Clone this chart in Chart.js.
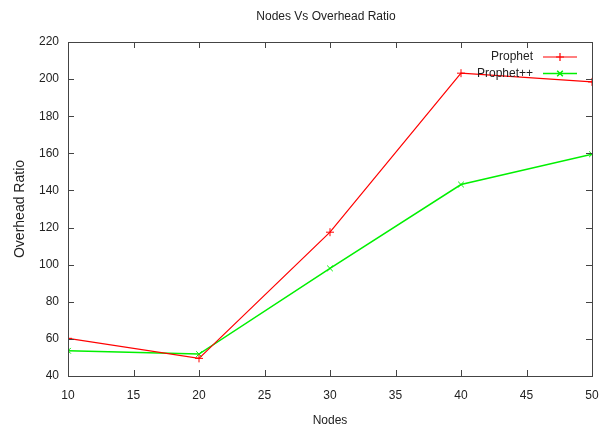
<!DOCTYPE html>
<html><head><meta charset="utf-8">
<script src="https://cdn.jsdelivr.net/npm/chart.js@4/dist/chart.umd.min.js"></script>
<style>html,body{margin:0;padding:0;background:#fff}#wrap{width:606px;height:428px}</style>
</head><body><div id="wrap"><canvas id="c" width="606" height="428"></canvas></div>
<script>
const chartTitle = 'Nodes Vs Overhead Ratio';
const xTitle = 'Nodes';
const yTitle = 'Overhead Ratio';
const nodes = [10, 20, 30, 40, 50];
const prophet = [60.3, 49.5, 117.5, 203.2, 198.5];
const prophetPP = [53.6, 51.8, 98, 143.2, 159.5];
const seriesNames = ['Prophet', 'Prophet++'];
const xTicks = [10, 15, 20, 25, 30, 35, 40, 45, 50];
const yTicks = [40, 60, 80, 100, 120, 140, 160, 180, 200, 220];

const FONT = "'Liberation Sans',Arial,sans-serif";
const TXT = '#222';
const AX = '#444';

const frame = {
  id: 'frame',
  afterDraw(chart) {
    const {ctx, chartArea: a, scales} = chart;
    const xs = scales.x, ys = scales.y;
    ctx.save();
    ctx.strokeStyle = AX; ctx.lineWidth = 1;
    ctx.strokeRect(Math.round(a.left) + 0.5, Math.round(a.top) + 0.5, Math.round(a.right - a.left), Math.round(a.bottom - a.top));
    const tl = 6;
    ctx.beginPath();
    xTicks.forEach(v => {
      const px = Math.round(xs.getPixelForValue(v)) + 0.5;
      ctx.moveTo(px, a.bottom); ctx.lineTo(px, a.bottom - tl);
      ctx.moveTo(px, a.top); ctx.lineTo(px, a.top + tl);
    });
    yTicks.forEach(v => {
      const py = Math.round(ys.getPixelForValue(v)) + 0.5;
      ctx.moveTo(a.left, py); ctx.lineTo(a.left + tl, py);
      ctx.moveTo(a.right, py); ctx.lineTo(a.right - tl, py);
    });
    ctx.stroke();
    // title
    ctx.fillStyle = TXT;
    ctx.font = '12px ' + FONT;
    ctx.textAlign = 'center'; ctx.textBaseline = 'middle';
    ctx.fillText(chartTitle, 326, 17);
    // legend
    chart.data.datasets.forEach((ds, i) => {
      const y = 57 + i * 16.5;
      ctx.fillStyle = TXT; ctx.textAlign = 'right';
      ctx.fillText(ds.label, 533, y);
      ctx.strokeStyle = ds.borderColor; ctx.lineWidth = ds.borderWidth;
      ctx.beginPath(); ctx.moveTo(543, y); ctx.lineTo(577, y); ctx.stroke();
      Chart.helpers.drawPoint(ctx, {pointStyle: ds.pointStyle, radius: ds.pointRadius, borderWidth: 1}, 560, y);
    });
    ctx.restore();
  }
};

const toPts = arr => nodes.map((x, i) => ({x, y: arr[i]}));

new Chart(document.getElementById('c'), {
  type: 'line',
  data: {
    datasets: [
      {label: seriesNames[0], data: toPts(prophet), borderColor: '#ff0000', backgroundColor: '#ff0000', borderWidth: 1.2, pointStyle: 'cross', pointRadius: 4, pointBorderWidth: 1, tension: 0, fill: false},
      {label: seriesNames[1], data: toPts(prophetPP), borderColor: '#00f000', backgroundColor: '#00f000', borderWidth: 1.5, pointStyle: 'crossRot', pointRadius: 4, pointBorderWidth: 1, tension: 0, fill: false}
    ]
  },
  options: {
    responsive: false,
    animation: false,
    devicePixelRatio: 1,
    layout: {padding: {top: 42, right: 14, left: 0, bottom: 0}},
    plugins: {legend: {display: false}, title: {display: false}, tooltip: {enabled: false}},
    scales: {
      x: {
        type: 'linear', min: 10, max: 50,
        afterBuildTicks: s => { s.ticks = xTicks.map(v => ({value: v})); },
        afterFit: s => { s.height = 52; s.paddingLeft = 0; s.paddingRight = 0; },
        grid: {display: false, drawTicks: false},
        border: {display: false},
        ticks: {padding: 12, color: TXT, font: {family: FONT, size: 12}, maxRotation: 0},
        title: {display: true, text: xTitle, color: TXT, font: {family: FONT, size: 12, lineHeight: 1}, padding: {top: 0, bottom: 1}}
      },
      y: {
        min: 40, max: 220,
        afterBuildTicks: s => { s.ticks = yTicks.map(v => ({value: v})); },
        afterFit: s => { s.width = 68; s.paddingTop = 0; s.paddingBottom = 0; },
        grid: {display: false, drawTicks: false},
        border: {display: false},
        ticks: {padding: 9, color: TXT, font: {family: FONT, size: 12}},
        title: {display: true, text: yTitle, color: TXT, font: {family: FONT, size: 14, lineHeight: 1}, padding: {top: 13, bottom: 0}}
      }
    }
  },
  plugins: [frame]
});
</script></body></html>
